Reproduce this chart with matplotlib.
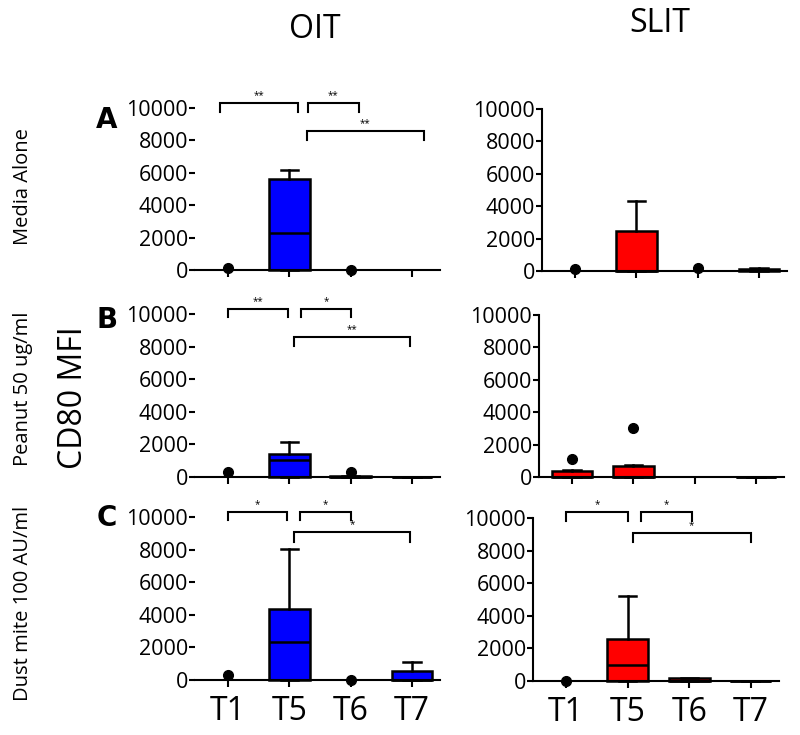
import numpy as np
import matplotlib
matplotlib.use("Agg")
import matplotlib.pyplot as plt

plt.rcParams['font.family'] = ['Open Sans', 'DejaVu Sans']

nan = np.nan
categories = ["T1", "T5", "T6", "T7"]
treatments = ["OIT", "SLIT"]
conditions = ["Media Alone", "Peanut 50 ug/ml", "Dust mite 100 AU/ml"]
panel_letters = ["A", "B", "C"]

# ---- box statistics (q1 = 0, whisker low = 0) per panel ----
oit_media_q3 = [nan, 5600, nan, nan]
oit_media_med = [nan, 2300, nan, nan]
oit_media_whi = [nan, 6150, nan, nan]
oit_media_dot_cat = [0, 2]
oit_media_dot_val = [100, 0]

slit_media_q3 = [nan, 2500, nan, 150]
slit_media_med = [nan, 0, nan, 80]
slit_media_whi = [nan, 4300, nan, 170]
slit_media_dot_cat = [0, 2]
slit_media_dot_val = [100, 200]

oit_peanut_q3 = [nan, 1400, 80, 20]
oit_peanut_med = [nan, 1050, 0, 0]
oit_peanut_whi = [nan, 2150, 80, 20]
oit_peanut_dot_cat = [0, 2]
oit_peanut_dot_val = [300, 330]

slit_peanut_q3 = [350, 700, nan, 20]
slit_peanut_med = [0, 0, nan, 0]
slit_peanut_whi = [420, 720, nan, 20]
slit_peanut_dot_cat = [0, 1]
slit_peanut_dot_val = [1100, 3000]

oit_dust_q3 = [nan, 4350, nan, 550]
oit_dust_med = [nan, 2350, nan, 0]
oit_dust_whi = [nan, 8050, nan, 1100]
oit_dust_dot_cat = [0, 2]
oit_dust_dot_val = [330, 0]

slit_dust_q3 = [nan, 2550, 180, 20]
slit_dust_med = [nan, 1000, 0, 0]
slit_dust_whi = [nan, 5200, 200, 20]
slit_dust_dot_cat = [0]
slit_dust_dot_val = [0]

# ---- significance annotations: (x_start, x_end, y_top, y_leg, label) ----
oit_media_sig = [(-0.13, 1.14, 10330, 9770, "**"), (1.30, 2.13, 10330, 9770, "**"),
                 (1.29, 3.19, 8580, 8030, "**")]
oit_peanut_sig = [(0.0, 0.98, 10310, 9840, "**"), (1.19, 2.0, 10310, 9840, "*"),
                  (1.07, 2.97, 8610, 8030, "**")]
oit_dust_sig = [(0.0, 0.97, 10310, 9840, "*"), (1.17, 2.0, 10310, 9840, "*"),
                (1.07, 2.97, 9060, 8460, "*")]
slit_dust_sig = [(0.0, 1.0, 10350, 9840, "*"), (1.21, 2.04, 10350, 9840, "*"),
                 (1.08, 3.0, 9055, 8500, "*")]

panels = [
    # (row, col, q3, med, whi, dot_cat, dot_val, sig, rect)
    (0, 0, oit_media_q3, oit_media_med, oit_media_whi, oit_media_dot_cat, oit_media_dot_val, oit_media_sig,
     [195/800, 1-270/735, 245/800, 162/735]),
    (0, 1, slit_media_q3, slit_media_med, slit_media_whi, slit_media_dot_cat, slit_media_dot_val, [],
     [542/800, 1-271/735, 245/800, 162/735]),
    (1, 0, oit_peanut_q3, oit_peanut_med, oit_peanut_whi, oit_peanut_dot_cat, oit_peanut_dot_val, oit_peanut_sig,
     [195/800, 1-477/735, 245/800, 163/735]),
    (1, 1, slit_peanut_q3, slit_peanut_med, slit_peanut_whi, slit_peanut_dot_cat, slit_peanut_dot_val, [],
     [539/800, 1-477/735, 245/800, 162/735]),
    (2, 0, oit_dust_q3, oit_dust_med, oit_dust_whi, oit_dust_dot_cat, oit_dust_dot_val, oit_dust_sig,
     [195/800, 1-680/735, 245/800, 163/735]),
    (2, 1, slit_dust_q3, slit_dust_med, slit_dust_whi, slit_dust_dot_cat, slit_dust_dot_val, slit_dust_sig,
     [533/800, 1-681/735, 246/800, 163/735]),
]

colors = ["#0000ff", "#ff0000"]

fig = plt.figure(figsize=(8, 7.35), dpi=100)

for row, col, q3, med, whi, dcat, dval, sig, rect in panels:
    ax = fig.add_axes(rect)
    pos = np.arange(len(categories))
    stats, spos = [], []
    for i in range(len(categories)):
        if np.isnan(q3[i]):
            continue
        stats.append(dict(med=med[i], q1=0, q3=q3[i], whislo=0, whishi=whi[i], fliers=[]))
        spos.append(pos[i])
    if stats:
        bp = ax.bxp(stats, positions=spos, widths=0.66, patch_artist=True, showfliers=False,
                    boxprops=dict(facecolor=colors[col], edgecolor="black", linewidth=1.8),
                    medianprops=dict(color="black", linewidth=1.8),
                    whiskerprops=dict(color="black", linewidth=1.8),
                    capprops=dict(color="black", linewidth=1.8),
                    capwidths=0.28, manage_ticks=False)
        for art in bp['boxes'] + bp['medians'] + bp['whiskers'] + bp['caps']:
            art.set_clip_on(False)
    ax.plot(pos[dcat], dval, 'o', color="black", ms=7, clip_on=False, zorder=5)

    for x0, x1, yt, yl, lab in sig:
        ax.plot([x0, x0, x1, x1], [yl, yt, yt, yl], color="black", lw=1.5,
                clip_on=False, solid_joinstyle='miter')
        ax.text((x0 + x1) / 2, yt + 120, lab, ha="center", va="bottom", fontsize=7,
                clip_on=False)

    ax.set_xlim(-0.538, 3.458)
    ax.set_ylim(0, 10000)
    ax.set_yticks([0, 2000, 4000, 6000, 8000, 10000])
    ax.set_xticks(pos)
    if row == 2:
        ax.set_xticklabels(categories, fontsize=23)
    else:
        ax.set_xticklabels([])
    ax.tick_params(axis="y", labelsize=15.5, length=4, width=1.5, pad=1)
    ax.tick_params(axis="x", length=5, width=1.5, pad=6)
    ax.spines["top"].set_visible(False)
    ax.spines["right"].set_visible(False)
    ax.spines["bottom"].set_linewidth(1.5)
    ax.spines["left"].set_linewidth(1.5)
    if col == 0:
        ax.spines["left"].set_visible(False)
    ax.patch.set_alpha(0)

# column titles
fig.text(315/800, 1-30/735, treatments[0], ha="center", va="center", fontsize=23)
fig.text(660/800, 1-24/735, treatments[1], ha="center", va="center", fontsize=23)

# row labels
row_label_y = [187, 389, 603]
for lab, yy in zip(conditions, row_label_y):
    fig.text(23/800, 1-yy/735, lab, rotation=90, ha="center", va="center", fontsize=14.5)

letter_y = [120, 320, 518]
for lab, yy in zip(panel_letters, letter_y):
    fig.text(107/800, 1-yy/735, lab, ha="center", va="center", fontsize=20,
             fontweight="heavy", family="DejaVu Sans")

fig.text(73/800, 1-398/735, "CD80 MFI", rotation=90, ha="center", va="center", fontsize=23)

fig.savefig("out.png", dpi=100)
